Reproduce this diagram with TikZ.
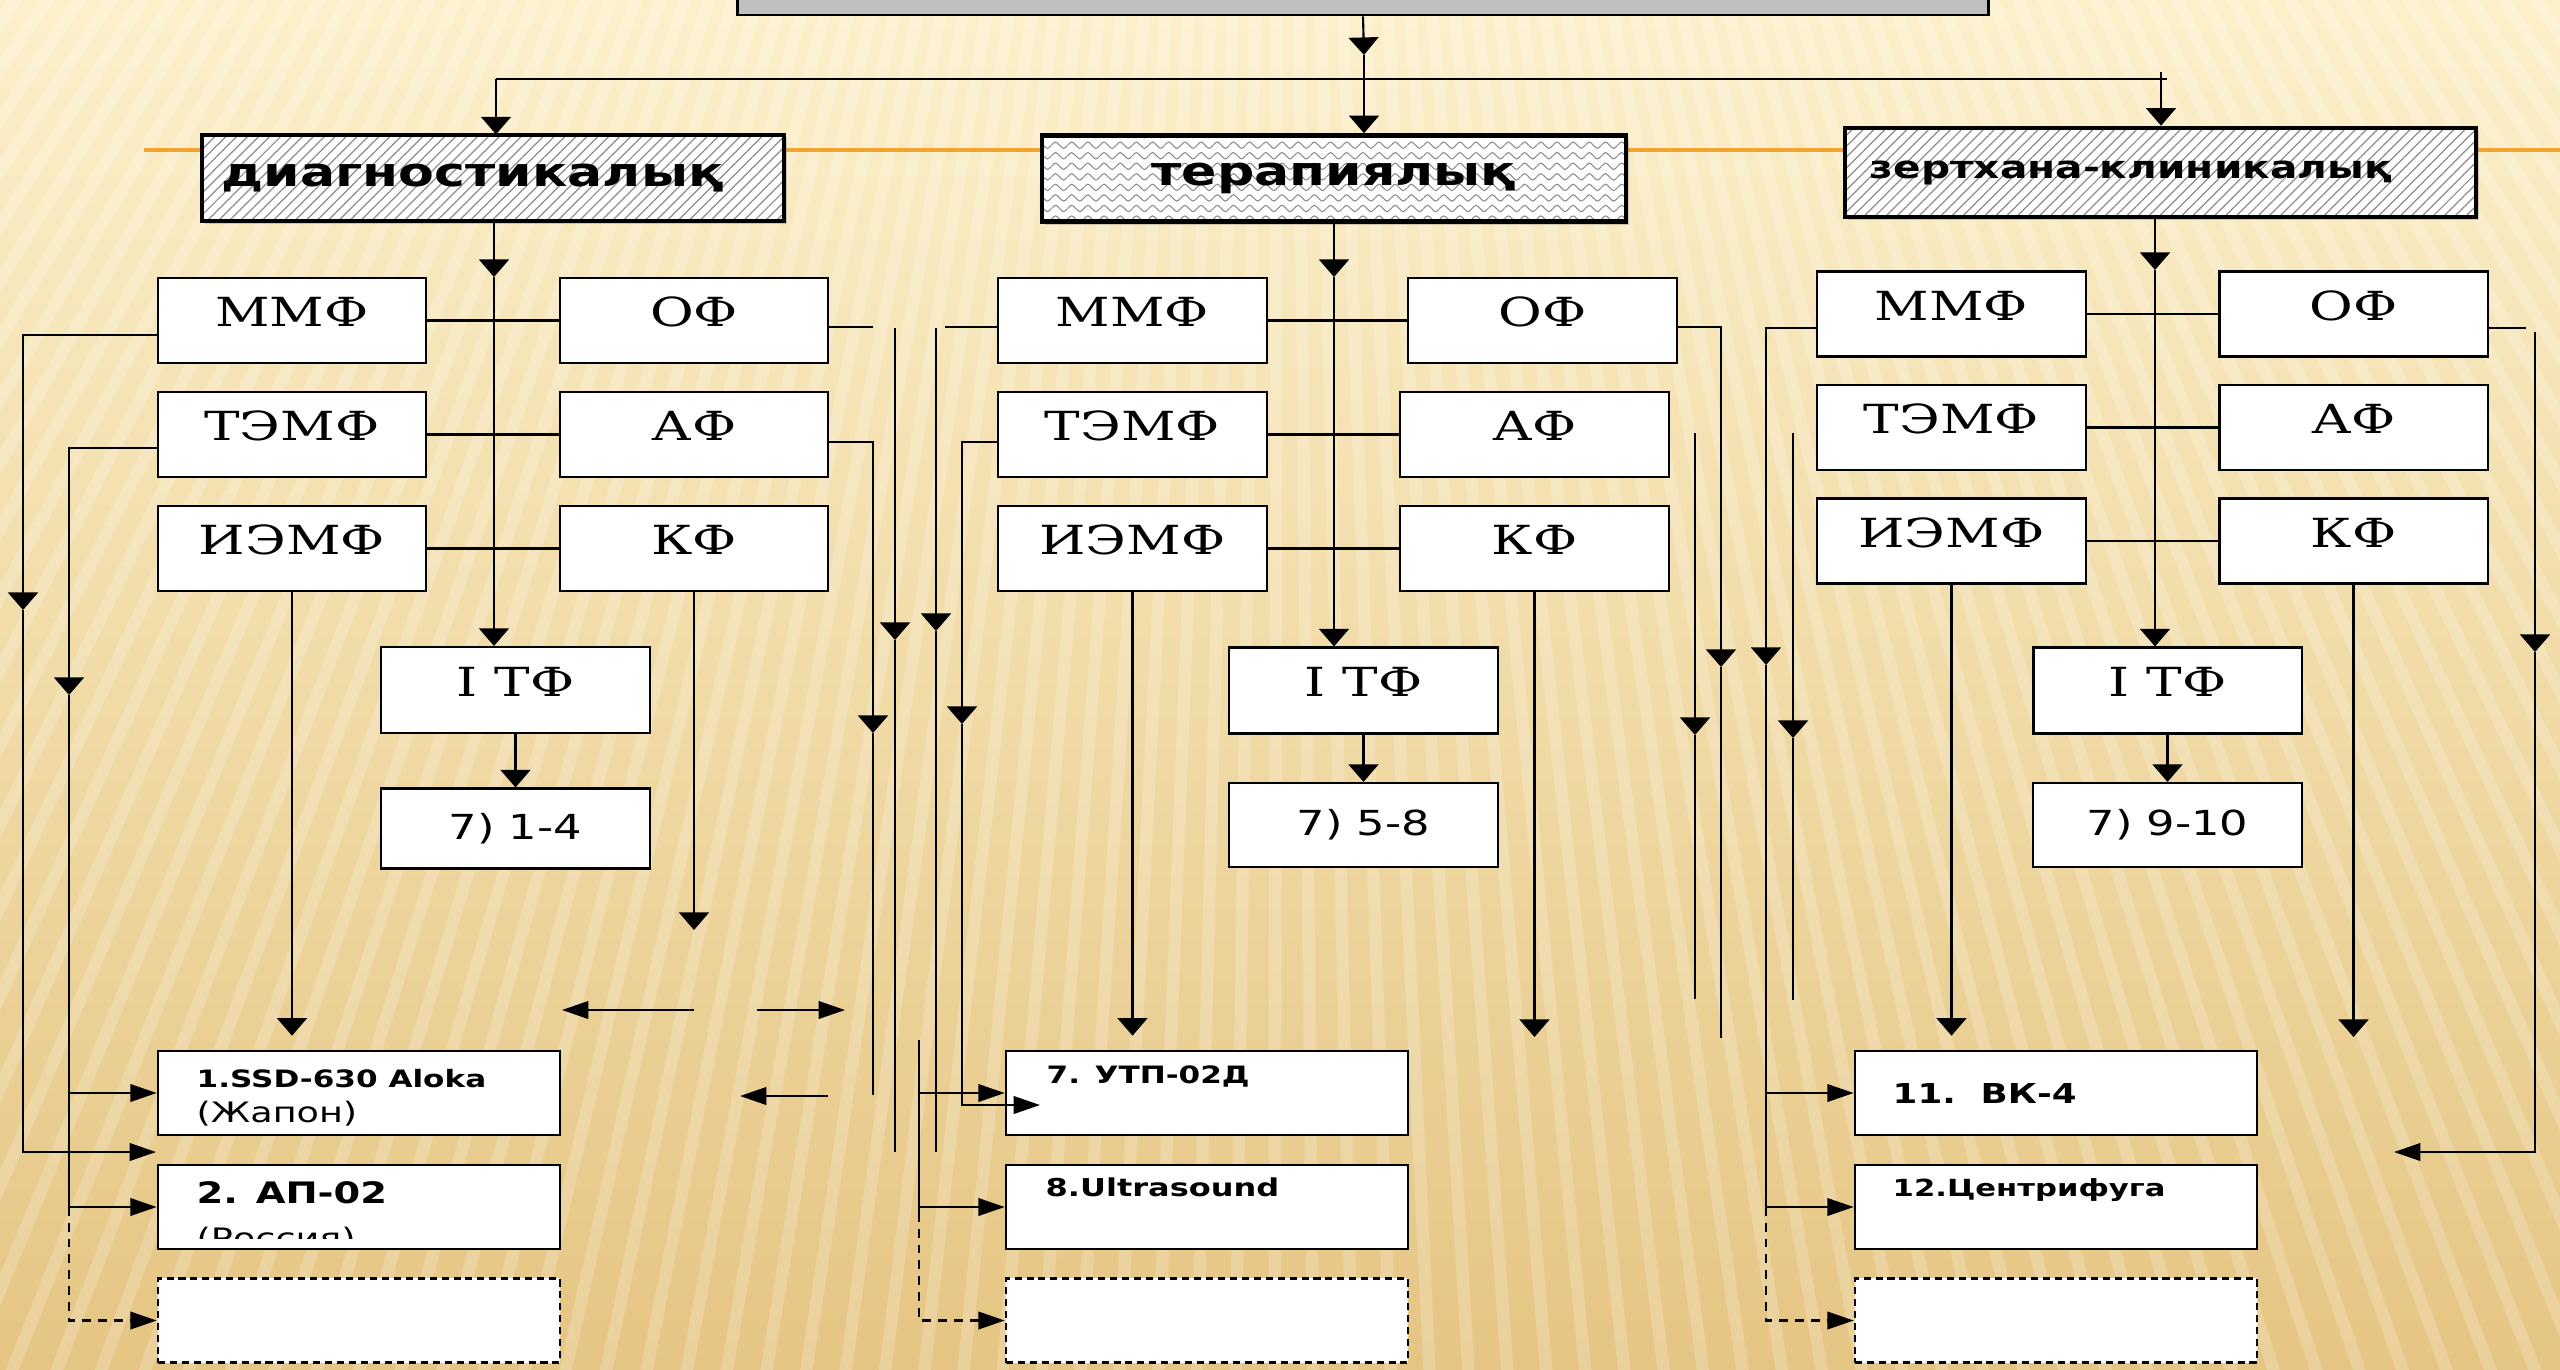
\documentclass[tikz,border=0pt]{standalone}
\usepackage{fontspec}
\newfontfamily\sansfam{DejaVu Sans}[FakeStretch=1.3]
\newfontfamily\seriffam{DejaVu Serif}[FakeStretch=1.33]
\usepackage{tikz}
\usetikzlibrary{arrows.meta,patterns.meta,shadows}

\definecolor{bgtop}{HTML}{FCF0CB}
\definecolor{bgbot}{HTML}{E5C583}
\definecolor{rulecol}{HTML}{F2A431}
\definecolor{hatchcol}{HTML}{8C8C8C}
\definecolor{headcol}{HTML}{BFBFBF}

% wavy fill for the middle box
\tikzdeclarepattern{
  name=wavy,
  type=uncolored,
  bounding box={(0pt,-1.3pt) and (4.6pt,1.3pt)},
  tile size={(4.6pt,3pt)},
  code={
    \draw[line width=0.3pt] (0pt,0pt) .. controls (1.15pt,1.2pt) .. (2.3pt,0pt)
      .. controls (3.45pt,-1.2pt) .. (4.6pt,0pt);
  }
}

\tikzset{
  conn/.style={line width=0.6pt},
  varr/.style={-{Triangle[length=5pt,width=8.5pt]}},
  harr/.style={-{Triangle[length=7.5pt,width=5pt]}},
  dashline/.style={dash pattern=on 2.5pt off 2pt},
  catbox/.style={draw, line width=1.3pt,
    drop shadow={shadow xshift=0.9pt, shadow yshift=-0.9pt, opacity=0.35},
    preaction={fill=white}, pattern color=hatchcol,
    minimum height=0.86cm, inner xsep=0.2cm,
    font=\sansfam\bfseries\fontsize{11.4}{13}\selectfont},
  hatchfill/.style={pattern={Lines[angle=45,distance=2.2pt,line width=0.35pt]}},
  monobox/.style={draw, line width=0.6pt, fill=white,
    minimum width=2.68cm, minimum height=0.85cm, inner sep=0pt,
    text height=0.29cm, text depth=0.17cm,
    font=\seriffam\fontsize{11.4}{12}\selectfont},
  rbox/.style={draw, line width=0.6pt, fill=white,
    minimum width=2.69cm, minimum height=0.8cm,
    font=\sansfam\fontsize{9.8}{11}\selectfont},
  devbox/.style={draw, line width=0.7pt, fill=white,
    minimum width=4.02cm, minimum height=0.84cm},
  dashbox/.style={devbox, dash pattern=on 2pt off 1.4pt},
  devbold/.style={inner sep=0pt, anchor=base west,
    font=\sansfam\bfseries\fontsize{#1}{10}\selectfont},
  devreg/.style={inner sep=0pt, anchor=base west,
    font=\sansfam\fontsize{8}{10}\selectfont}
}

\begin{document}
\begin{tikzpicture}[x=0.01cm, y=-0.01cm]
\useasboundingbox (0,0) rectangle (2560,1369);
\clip (0,0) rectangle (2560,1369);

% Background
\shade[top color=bgtop, bottom color=bgbot] (0,0) rectangle (2560,1369);
\foreach \a in {-44,-43.3,...,44}
  \draw[white, opacity=0.2, line width=3.5pt] (1280,-1800) -- ++(90+\a:3800);

% Orange rule
\coordinate (rulew) at (144,150);
\coordinate (rulee) at (2560,150);
\draw[rulecol, line width=1pt] (rulew) -- (rulee);

% Head box
\node[draw, line width=0.8pt, fill=headcol, minimum width=12.5cm, minimum height=0.7cm] (head) at (1363,-20) {};

% Category boxes
\node[catbox, hatchfill, minimum width=5.82cm, text width=5.42cm, align=left] (diag) at (493,178) {диагностикалық};
\node[catbox, pattern=wavy, minimum width=5.84cm] (ter) at (1334,178.5) {терапиялық};
\node[catbox, hatchfill, minimum width=6.31cm, minimum height=0.89cm, inner xsep=0.25cm, text width=5.81cm, align=left,
  font=\sansfam\bfseries\fontsize{8.9}{10}\selectfont] (zert) at (2160.5,172.5) {зертхана-клиникалық};

% Function boxes
\node[monobox] (mmf1) at (292,320.5) {ММФ};
\node[monobox] (of1) at (694,320.5) {ОФ};
\node[monobox] (temf1) at (292,434.5) {ТЭМФ};
\node[monobox] (af1) at (694,434.5) {АФ};
\node[monobox] (iemf1) at (292,548.5) {ИЭМФ};
\node[monobox] (kf1) at (694,548.5) {КФ};
\node[monobox, minimum height=0.86cm] (itf1) at (515.5,690) {І ТФ};
\node[rbox] (r1) at (515.5,828.5) {7) 1-4};

\node[monobox] (mmf2) at (1132.5,320.5) {ММФ};
\node[monobox] (of2) at (1542.5,320.5) {ОФ};
\node[monobox] (temf2) at (1132.5,434.5) {ТЭМФ};
\node[monobox] (af2) at (1534.5,434.5) {АФ};
\node[monobox] (iemf2) at (1132.5,548.5) {ИЭМФ};
\node[monobox] (kf2) at (1534.5,548.5) {КФ};
\node[monobox, minimum height=0.86cm] (itf2) at (1363.5,690.5) {І ТФ};
\node[rbox, minimum height=0.84cm] (r2) at (1363.5,825) {7) 5-8};

\node[monobox] (mmf3) at (1951.5,314) {ММФ};
\node[monobox] (of3) at (2353.5,314) {ОФ};
\node[monobox] (temf3) at (1951.5,427.5) {ТЭМФ};
\node[monobox] (af3) at (2353.5,427.5) {АФ};
\node[monobox] (iemf3) at (1951.5,541) {ИЭМФ};
\node[monobox] (kf3) at (2353.5,541) {КФ};
\node[monobox, minimum height=0.86cm] (itf3) at (2167.5,690.5) {І ТФ};
\node[rbox, minimum height=0.84cm] (r3) at (2167.5,825) {7) 9-10};

% Device boxes
\node[devbox] (d1) at (359,1093) {};
\node[devbox] (d2) at (359,1207) {};
\node[dashbox] (d3) at (359,1320.5) {};
\node[devbox] (d7) at (1207,1093) {};
\node[devbox] (d8) at (1207,1207) {};
\node[dashbox] (d9) at (1207,1320.5) {};
\node[devbox] (d11) at (2056,1093) {};
\node[devbox] (d12) at (2056,1207) {};
\node[dashbox] (d13) at (2056,1320.5) {};

% Device labels
\node[devbold=6.8] (t1a) at (196,1087) {1.SSD-630 Aloka};
\node[devreg] (t1b) at (196,1122) {(Жапон)};
\node[devbold=8.4] (t2a) at (196,1203) {2. АП-02};
\begin{scope}
  \clip (d2.north west) rectangle (d2.east |- 0,1238);
  \node[devreg] (t2b) at (196,1248) {(Россия)};
\end{scope}
\node[devbold=6.8] (t7) at (1046,1083) {7. УТП-02Д};
\node[devbold=7] (t8) at (1045,1196) {8.Ultrasound};
\node[devbold=7.8] (t11) at (1892,1103) {11.\ \ ВК-4};
\node[devbold=6.7] (t12) at (1892,1196) {12.Центрифуга};

% Top distribution
\coordinate (busw) at (496,79);
\coordinate (buse) at (2167,79);
\coordinate (hmid) at (1364,55);
\coordinate (zt) at (2161,72);
\draw[conn] (busw) -- (buse);
\draw[conn,varr] (head.south) -- (hmid);
\draw[conn,varr] (hmid) -- (hmid |- ter.north);
\draw[conn,varr] (busw) -- (busw |- diag.north);
\draw[conn,varr] (zt) -- (zt |- zert.north);

% Spines
\coordinate (s1) at (494,277);
\coordinate (s2) at (1334,277);
\coordinate (s3) at (2155,270);
\draw[conn,varr] (diag.south -| s1) -- (s1);
\draw[conn,varr] (s1) -- (s1 |- itf1.north);
\draw[conn,varr] (ter.south) -- (s2);
\draw[conn,varr] (s2) -- (s2 |- itf2.north);
\draw[conn,varr] (zert.south -| s3) -- (s3);
\draw[conn,varr] (s3) -- (s3 |- itf3.north);

\foreach \s in {1,2,3} {
  \draw[conn] (mmf\s.east) -- (of\s.west);
  \draw[conn] (temf\s.east) -- (af\s.west);
  \draw[conn] (iemf\s.east) -- (kf\s.west);
  \draw[conn,varr] (itf\s.south) -- (r\s.north);
}

% Down arrows to devices
\draw[conn,varr,shorten >=4pt] (iemf1.south) -- (iemf1.south |- d1.north);
\draw[conn,varr,shorten >=4pt] (iemf2.south) -- (iemf2.south |- d7.north);
\draw[conn,varr,shorten >=4pt] (iemf3.south) -- (iemf3.south |- d11.north);
\coordinate (k1end) at (694,930);
\coordinate (k2end) at (1534.5,1037);
\coordinate (k3end) at (2353.5,1037);
\draw[conn,varr] (kf1.south) -- (k1end);
\draw[conn,varr] (kf2.south) -- (k2end);
\draw[conn,varr] (kf3.south) -- (k3end);

% Section 1 side lines
\coordinate (a1) at (23,610);
\coordinate (g1) at (156,1152);
\draw[conn,varr] (mmf1.west |- 0,335) -| (a1);
\draw[conn,harr] (a1) |- (g1);
\coordinate (a2) at (69,695);
\draw[conn,varr] (temf1.west |- 0,448) -| (a2);
\draw[conn,harr] (a2) |- (d1.west);
\draw[conn,harr] (a2) |- (d2.west);
\draw[conn,dashline,harr] (d2.west -| a2) |- (d3.west);

\coordinate (o1end) at (873,327);
\draw[conn] (of1.east |- o1end) -- (o1end);
\coordinate (v1top) at (895,328);
\coordinate (v1mid) at (895,640);
\coordinate (v1bot) at (895,1152);
\draw[conn,varr] (v1top) -- (v1mid);
\draw[conn] (v1mid) -- (v1bot);
\coordinate (a3) at (873,733);
\coordinate (a3end) at (873,1095);
\draw[conn,varr] (af1.east |- 0,442) -| (a3);
\draw[conn] (a3) -- (a3end);

\coordinate (h1a) at (694,1010);
\coordinate (h1b) at (562,1010);
\coordinate (h2a) at (757,1010);
\coordinate (h2b) at (845,1010);
\coordinate (h3a) at (828,1096);
\coordinate (h3b) at (740,1096);
\draw[conn,harr] (h1a) -- (h1b);
\draw[conn,harr] (h2a) -- (h2b);
\draw[conn,harr] (h3a) -- (h3b);

% Section 2 side lines
\coordinate (m2end) at (945,327);
\draw[conn] (mmf2.west |- m2end) -- (m2end);
\coordinate (v2top) at (936,328);
\coordinate (v2mid) at (936,631);
\coordinate (v2bot) at (936,1152);
\draw[conn,varr] (v2top) -- (v2mid);
\draw[conn] (v2mid) -- (v2bot);
\coordinate (a4) at (962,724);
\coordinate (a4end) at (1040,1105);
\draw[conn,varr] (temf2.west |- 0,442) -| (a4);
\draw[conn,harr] (a4) |- (a4end);
\coordinate (t2top) at (919,1040);
\coordinate (t2bot) at (919,1213);
\draw[conn] (t2top) -- (t2bot);
\draw[conn,harr] (t2top |- d7.west) -- (d7.west);
\draw[conn,harr] (t2top |- d8.west) -- (d8.west);
\draw[conn,dashline,harr] (t2bot) |- (d9.west);

\coordinate (a5) at (1721,667);
\coordinate (a5end) at (1721,1038);
\draw[conn,varr] (of2.east |- 0,327) -| (a5);
\draw[conn] (a5) -- (a5end);
\coordinate (v5top) at (1695,433);
\coordinate (v5mid) at (1695,735);
\coordinate (v5bot) at (1695,999);
\draw[conn,varr] (v5top) -- (v5mid);
\draw[conn] (v5mid) -- (v5bot);

% Section 3 side lines
\coordinate (a6) at (1766,665);
\draw[conn,varr] (mmf3.west |- 0,328) -| (a6);
\draw[conn,harr] (a6) |- (d11.west);
\draw[conn,harr] (a6) |- (d12.west);
\draw[conn,dashline,harr] (d12.west -| a6) |- (d13.west);
\coordinate (v6top) at (1793,433);
\coordinate (v6mid) at (1793,738);
\coordinate (v6bot) at (1793,1000);
\draw[conn,varr] (v6top) -- (v6mid);
\draw[conn] (v6mid) -- (v6bot);

\coordinate (o3end) at (2526,328);
\draw[conn] (of3.east |- o3end) -- (o3end);
\coordinate (a7top) at (2535,332);
\coordinate (a7) at (2535,652);
\coordinate (a7end) at (2394,1152);
\draw[conn,varr] (a7top) -- (a7);
\draw[conn,harr] (a7) |- (a7end);
\end{tikzpicture}
\end{document}
